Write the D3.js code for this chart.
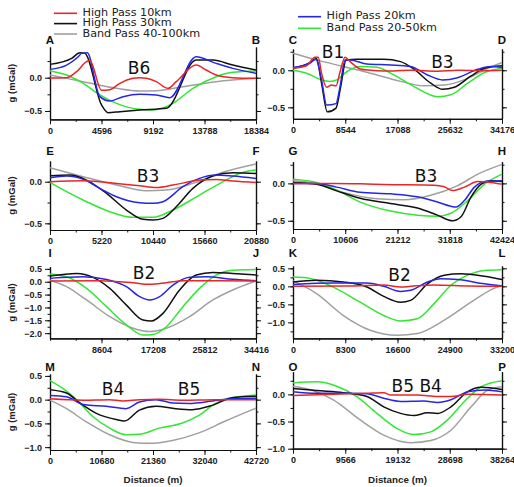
<!DOCTYPE html>
<html><head><meta charset="utf-8">
<script src="https://cdn.jsdelivr.net/npm/d3@7"></script>
<style>body{margin:0;background:#fff}svg{display:block}</style>
</head><body><svg id="c" width="514" height="487"></svg>
<script>
// ---------------- DATA ----------------
const seriesLabels = ["High Pass 10km","High Pass 30km","Band Pass 40-100km","High Pass 20km","Band Pass 20-50km"];
const cornerLetters = [["A","B"],["C","D"],["E","F"],["G","H"],["I","J"],["K","L"],["M","N"],["O","P"]];
const distanceMax = [18384,34176,20880,42424,34416,33200,42720,38264];

const xTicks_AB = [0,4596,9192,13788,18384];
const xTicks_CD = [0,8544,17088,25632,34176];
const xTicks_EF = [0,5220,10440,15660,20880];
const xTicks_GH = [0,10606,21212,31818,42424];
const xTicks_IJ = [8604,17208,25812,34416];
const xTicks_KL = [0,8300,16600,24900,33200];
const xTicks_MN = [0,10680,21360,32040,42720];
const xTicks_OP = [0,9566,19132,28698,38264];

const yTicks_AB = [-0.5,0.0];
const yTicks_CD = [-0.5,0.0];
const yTicks_EF = [-0.5,0.0];
const yTicks_GH = [-0.5,0.0];
const yTicks_IJ = [-2.0,-1.5,-1.0,-0.5,0.0,0.5];
const yTicks_KL = [-1.0,-0.5,0.0,0.5];
const yTicks_MN = [-1.0,-0.5,0.0,0.5];
const yTicks_OP = [-1.0,-0.5,0.0];

const yRange_AB = [-0.625,0.461];
const yRange_CD = [-0.655,0.287];
const yRange_EF = [-0.58,0.249];
const yRange_GH = [-0.61,0.29];
const yRange_IJ = [-2.2,0.584];
const yRange_KL = [-1.443,0.565];
const yRange_MN = [-1.06,0.54];
const yRange_OP = [-1.0,0.417];

// Panel A-B
const hp10_AB = [[0,-0.005],[1480,0.0],[2370,0.09],[3260,0.24],[3560,0.26],[4600,-0.19],[5340,-0.18],[6230,-0.085],[7400,-0.01],[8000,0.0],[8600,-0.01],[9490,-0.06],[10530,-0.16],[11270,-0.06],[13050,0.19],[13940,0.115],[14830,0.04],[16310,0.0],[18384,-0.01]];
const hp30_AB = [[0,0.2],[1930,0.29],[2670,0.375],[3110,0.365],[4600,-0.41],[5190,-0.525],[6230,-0.51],[8000,-0.485],[10380,-0.46],[13050,0.265],[14530,0.265],[16310,0.19],[18384,0.115]];
const bp40_AB = [[0,0.04],[2965,-0.06],[5930,-0.16],[8006,-0.2],[9488,-0.195],[11860,-0.135],[14825,-0.06],[18384,-0.01]];
const hp20_AB = [[0,0.125],[1483,0.19],[2520,0.315],[2817,0.365],[3321,0.375],[4448,-0.285],[5337,-0.35],[6523,-0.285],[8006,-0.25],[9488,-0.26],[10674,-0.3],[13046,0.315],[14825,0.215],[16308,0.14],[18384,0.065]];
const bp20_AB = [[0,0.1],[1483,0.04],[2965,-0.085],[4448,-0.26],[5930,-0.385],[8006,-0.475],[9190,-0.485],[10970,-0.385],[12750,-0.16],[14825,0.015],[16308,0.08],[18384,0.1]];

// Panel C-D
const hp10_CD = [[0,0.027],[2198,0.06],[3572,0.175],[4121,0.175],[4671,-0.04],[5495,-0.23],[6319,-0.2],[7034,-0.21],[7693,-0.02],[8517,0.175],[9342,0.117],[10990,0.018],[12639,0],[14837,-0.01],[19233,0],[23629,-0.013],[26926,0],[31322,-0.005],[34176,0]];
const hp30_CD = [[0,0.027],[2748,0.104],[3847,0.16],[4671,-0.175],[5605,-0.56],[7034,-0.51],[7803,-0.22],[8682,0.14],[10441,0.15],[14837,0.15],[17584,0.117],[19782,0.014],[22530,-0.175],[24453,-0.257],[26376,-0.23],[29124,-0.077],[31322,0.027],[34176,0.06]];
const bp40_CD = [[0,0.23],[3847,0.14],[8243,0.05],[12639,-0.04],[17584,-0.15],[21431,-0.21],[24728,-0.2],[28574,-0.11],[31871,0.027],[34176,0.104]];
const hp20_CD = [[0,0.036],[2748,0.095],[3737,0.15],[4671,-0.13],[5495,-0.47],[7034,-0.45],[7693,-0.22],[8517,0.14],[9342,0.14],[12089,0.085],[15936,0.072],[19233,0.05],[21980,-0.063],[24453,-0.13],[26926,-0.1],[30223,0.013],[32421,0.05],[34176,0.036]];
const bp20_CD = [[0,0],[2198,-0.04],[4396,-0.12],[6045,-0.15],[7144,-0.13],[8792,-0.02],[10990,0.05],[13738,0.04],[16485,-0.063],[19782,-0.22],[23629,-0.356],[25827,-0.33],[28574,-0.175],[31322,-0.03],[34176,0.027]];

// Panel E-F
const hp10_EF = [[0,0],[3368,0.012],[6736,-0.02],[9094,-0.048],[10778,-0.068],[12462,-0.04],[15156,0.02],[16840,0.028],[18524,0.008],[20880,-0.008]];
const hp30_EF = [[0,0.072],[2021,0.08],[3705,0.02],[5726,-0.14],[7746,-0.34],[9430,-0.452],[10441,-0.46],[11451,-0.44],[12798,-0.3],[14482,-0.08],[16503,0.068],[18524,0.108],[20880,0.1]];
const bp40_EF = [[0,0.168],[3368,0.06],[6736,-0.04],[9767,-0.108],[11788,-0.1],[14482,-0.02],[17177,0.1],[20880,0.212]];
const hp20_EF = [[0,0.048],[1684,0.068],[3368,0.028],[5052,-0.08],[6736,-0.18],[9094,-0.252],[10441,-0.26],[11451,-0.24],[13472,-0.06],[15156,0.04],[16840,0.08],[18524,0.068],[20880,0.04]];
const bp20_EF = [[0,-0.008],[1684,-0.12],[3705,-0.24],[6062,-0.36],[8420,-0.428],[10441,-0.428],[12462,-0.34],[15156,-0.16],[17850,0.02],[19534,0.112],[20880,0.14]];

// Panel G-H
const hp10_GH = [[0,0],[8185,0.0],[13642,-0.005],[18417,-0.015],[28648,-0.025],[30695,-0.045],[32400,-0.096],[34787,-0.05],[37516,0.026],[40244,0.013],[42424,-0.01]];
const hp30_GH = [[0,0.013],[4775,-0.01],[8867,-0.1],[13642,-0.2],[19781,-0.27],[25238,-0.33],[29330,-0.425],[32400,-0.5],[34105,-0.447],[36151,-0.18],[38198,-0.01],[40244,0.035],[42424,0.026]];
const bp40_GH = [[0,0.035],[4775,0],[10232,-0.12],[17053,-0.206],[22509,-0.22],[27966,-0.16],[33423,-0.03],[37516,0.123],[42424,0.254]];
const hp20_GH = [[0,0],[4775,0],[8867,-0.05],[13642,-0.12],[19781,-0.14],[25238,-0.18],[29330,-0.25],[32059,-0.307],[33082,-0.316],[34787,-0.23],[36833,-0.05],[38878,0.026],[42424,0.035]];
const bp20_GH = [[0,0.057],[4775,0.013],[8867,-0.09],[13642,-0.25],[19781,-0.37],[25238,-0.425],[29330,-0.44],[32059,-0.4],[35469,-0.23],[38878,-0.01],[42424,0.123]];

// Panel I-J
const hp10_IJ = [[0,0.03],[8327,0.04],[13878,-0.04],[16653,-0.1],[19429,-0.04],[22204,0.04],[27755,0.04],[34416,0.03]];
const hp30_IJ = [[0,0.22],[4441,0.32],[7216,0.17],[9992,-0.26],[12767,-0.91],[15543,-1.49],[16931,-1.53],[18873,-1.23],[21649,-0.32],[24424,0.26],[27200,0.36],[30531,0.32],[34416,0.26]];
const bp40_IJ = [[0,0.06],[2776,-0.19],[6106,-0.71],[9992,-1.36],[13878,-1.81],[16653,-1.94],[19429,-1.81],[23314,-1.36],[27200,-0.71],[30531,-0.32],[34416,0.03]];
const hp20_IJ = [[0,0.13],[5551,0.19],[9437,0.09],[12767,-0.19],[14988,-0.58],[16653,-0.71],[18318,-0.58],[20539,-0.13],[23314,0.17],[26090,0.19],[30531,0.1],[34416,0.04]];
const bp20_IJ = [[0,0.3],[2776,0.19],[6106,-0.26],[9437,-0.97],[12767,-1.68],[15543,-2.07],[17208,-2.05],[19429,-1.75],[22204,-0.97],[24980,-0.26],[27755,0.26],[30531,0.45],[34416,0.48]];

// Panel K-L
const hp10_KL = [[0,0],[9075,0.01],[14413,0.04],[17082,-0.02],[18683,0],[22420,0.04],[27758,0.01],[33200,0]];
const hp30_KL = [[0,0.12],[3737,0.17],[8007,0.12],[11744,-0.02],[14413,-0.28],[17082,-0.44],[18683,-0.39],[21352,0.07],[24021,0.31],[26690,0.35],[30427,0.28],[33200,0.19]];
const bp40_KL = [[0,0.15],[3737,-0.2],[8007,-0.81],[12277,-1.22],[16548,-1.36],[19751,-1.31],[24021,-0.94],[28291,-0.44],[31494,-0.09],[33200,0.03]];
const hp20_KL = [[0,0.05],[6406,0.09],[11744,0.09],[14413,0],[17082,-0.14],[18683,-0.11],[21352,0.12],[23487,0.21],[26156,0.19],[30427,0.07],[33200,0.01]];
const bp20_KL = [[0,0.26],[2135,0.24],[6406,-0.02],[10676,-0.44],[14413,-0.81],[17082,-0.96],[19751,-0.9],[22420,-0.48],[25089,0.03],[27758,0.31],[30427,0.44],[33200,0.46]];

// Panel M-N
const hp10_MN = [[0,0.02],[6868,-0.01],[12362,0],[15110,-0.03],[18544,0],[22664,0.01],[27472,-0.01],[34340,0],[42720,0]];
const hp30_MN = [[0,0.21],[3434,0.14],[6181,-0.07],[9615,-0.29],[13736,-0.42],[15453,-0.45],[18544,-0.22],[21978,-0.14],[26098,-0.19],[29532,-0.21],[33653,-0.12],[37774,0.04],[42720,0.07]];
const bp40_MN = [[0,-0.01],[3434,-0.19],[7555,-0.47],[12362,-0.74],[17170,-0.9],[20604,-0.92],[25412,-0.86],[30906,-0.7],[36400,-0.45],[39834,-0.3],[42720,-0.18]];
const hp20_MN = [[0,0.09],[3434,0.06],[6868,-0.1],[11676,-0.14],[15796,-0.19],[18544,-0.05],[21978,0],[25412,-0.07],[28846,-0.08],[33653,-0.03],[37774,0.02],[42720,0.03]];
const bp20_MN = [[0,0.4],[2747,0.23],[5494,0],[8928,-0.36],[12362,-0.6],[15796,-0.74],[18544,-0.73],[22664,-0.6],[27472,-0.49],[30906,-0.33],[34340,-0.08],[37087,0.03],[42720,0.1]];

// Panel O-P
const hp10_OP = [[0,-0.02],[7382,0],[13534,0.02],[16610,0.03],[17841,-0.01],[22762,-0.01],[26454,-0.04],[28914,-0.04],[31990,0],[38264,-0.01]];
const hp30_OP = [[0,0.11],[4306,0.07],[9228,0.03],[13534,-0.04],[16610,-0.23],[19686,-0.35],[22147,-0.39],[24608,-0.34],[26454,-0.35],[28914,-0.23],[31990,0.05],[34451,0.13],[38264,0.09]];
const bp40_OP = [[0,0.15],[3076,0.09],[7382,-0.1],[12304,-0.47],[16610,-0.75],[21532,-0.89],[25223,-0.85],[28914,-0.66],[32606,-0.23],[35682,0.08],[38264,0.14]];
const hp20_OP = [[0,0.05],[4306,0.02],[10458,0.02],[13534,0.01],[16610,-0.07],[19686,-0.13],[23993,-0.12],[26454,-0.15],[28914,-0.1],[31990,0.05],[35066,0.08],[38264,0.05]];
const bp20_OP = [[0,0.21],[4306,0.23],[7998,0.15],[11689,-0.04],[15380,-0.35],[19071,-0.63],[22147,-0.74],[25223,-0.69],[28299,-0.47],[31375,-0.13],[34451,0.14],[38264,0.25]];

// Anomaly labels [text, distance, value]
const notes_AB = [["B6",7940,0.055]];
const notes_CD = [["B1",6540,0.16],["B3",24440,0.027]];
const notes_EF = [["B3",9930,-0.007]];
const notes_GH = [["B3",26990,0.02]];
const notes_IJ = [["B2",15700,0.09]];
const notes_KL = [["B2",16920,0.147]];
const notes_MN = [["B4",13070,0.09],["B5",28830,0.09]];
const notes_OP = [["B5 B4",22650,0.048]];

// ---------------- LAYOUT / STYLE ----------------
const colors = {hp10:"#e82626", hp30:"#111111", bp40:"#a0a0a0", hp20:"#2626e6", bp20:"#33e633"};
const cols = [[50,256],[293,502]];
const panels = [
  {c:0, top:47,    bottom:119.3, lb:43.5,  xt:xTicks_AB, yt:yTicks_AB, yr:yRange_AB, s:[bp40_AB,bp20_AB,hp30_AB,hp20_AB,hp10_AB], n:notes_AB},
  {c:1, top:49,    bottom:118.8, lb:43.5,  xt:xTicks_CD, yt:yTicks_CD, yr:yRange_CD, s:[bp40_CD,bp20_CD,hp30_CD,hp20_CD,hp10_CD], n:notes_CD},
  {c:0, top:161,   bottom:230,   lb:155,   xt:xTicks_EF, yt:yTicks_EF, yr:yRange_EF, s:[bp40_EF,bp20_EF,hp30_EF,hp20_EF,hp10_EF], n:notes_EF},
  {c:1, top:161.7, bottom:229,   lb:155,   xt:xTicks_GH, yt:yTicks_GH, yr:yRange_GH, s:[bp40_GH,bp20_GH,hp30_GH,hp20_GH,hp10_GH], n:notes_GH},
  {c:0, top:266.7, bottom:338.3, lb:256.5, xt:xTicks_IJ, yt:yTicks_IJ, yr:yRange_IJ, s:[bp40_IJ,bp20_IJ,hp30_IJ,hp20_IJ,hp10_IJ], n:notes_IJ},
  {c:1, top:266,   bottom:338.3, lb:256.5, xt:xTicks_KL, yt:yTicks_KL, yr:yRange_KL, s:[bp40_KL,bp20_KL,hp30_KL,hp20_KL,hp10_KL], n:notes_KL},
  {c:0, top:374,   bottom:450,   lb:370.5, xt:xTicks_MN, yt:yTicks_MN, yr:yRange_MN, s:[bp40_MN,bp20_MN,hp30_MN,hp20_MN,hp10_MN], n:notes_MN},
  {c:1, top:371.7, bottom:448.7, lb:370.5, xt:xTicks_OP, yt:yTicks_OP, yr:yRange_OP, s:[bp40_OP,bp20_OP,hp30_OP,hp20_OP,hp10_OP], n:notes_OP}
];
const drawColors = [colors.bp40, colors.bp20, colors.hp30, colors.hp20, colors.hp10];

const svg = d3.select("#c");
const tickFont = "'Liberation Sans', Arial, sans-serif";
const fmtY = d3.format(".1f");

function styleAxis(g){
  g.select(".domain").attr("stroke","#111").attr("stroke-width",1.2);
  g.selectAll(".tick line").attr("stroke","#111").attr("stroke-width",1);
  g.selectAll(".tick text").attr("font-family",tickFont).attr("font-weight","bold").attr("font-size",9).attr("fill","#222");
}

panels.forEach((p,i)=>{
  const [x0,x1] = cols[p.c];
  const xMax = distanceMax[i];
  const x = d3.scaleLinear().domain([0,xMax]).range([x0,x1]);
  const y = d3.scaleLinear().domain(p.yr).range([p.bottom,p.top]);
  const g = svg.append("g");

  // minor ticks
  const minorX = d3.range(0, 9).map(k=>k*xMax/8);
  const minorY = d3.range(Math.ceil(p.yr[0]/0.25), Math.floor(p.yr[1]/0.25)+1).map(k=>k*0.25);
  g.append("g").attr("transform",`translate(0,${p.bottom})`).call(d3.axisBottom(x).tickValues(minorX).tickSize(2.5).tickSizeOuter(0).tickFormat("")).call(styleAxis);
  g.append("g").attr("transform",`translate(${x0},0)`).call(d3.axisLeft(y).tickValues(minorY).tickSize(2.5).tickSizeOuter(0).tickFormat("")).call(styleAxis);
  g.append("g").attr("transform",`translate(${x1},0)`).call(d3.axisRight(y).tickValues(minorY).tickSize(2.5).tickSizeOuter(0).tickFormat("")).call(styleAxis);

  // major axes
  g.append("g").attr("transform",`translate(0,${p.bottom})`).call(d3.axisBottom(x).tickValues(p.xt).tickSize(5).tickPadding(3).tickSizeOuter(0).tickFormat(d3.format("d"))).call(styleAxis);
  g.append("g").attr("transform",`translate(${x0},0)`).call(d3.axisLeft(y).tickValues(p.yt).tickSize(5).tickPadding(3).tickSizeOuter(0).tickFormat(fmtY)).call(styleAxis);
  g.append("g").attr("transform",`translate(${x1},0)`).call(d3.axisRight(y).tickValues(p.yt).tickSize(5).tickSizeOuter(0).tickFormat("")).call(styleAxis);

  // lines
  const line = d3.line().x(d=>x(d[0])).y(d=>y(d[1])).curve(d3.curveMonotoneX);
  p.s.forEach((ser,k)=>{
    g.append("path").datum(ser).attr("d",line).attr("fill","none")
      .attr("stroke",drawColors[k]).attr("stroke-width",1.5).attr("stroke-linejoin","round");
  });

  // anomaly labels
  p.n.forEach(([t,dx,dv])=>{
    g.append("text").attr("x",x(dx)).attr("y",y(dv)).attr("text-anchor","middle")
      .attr("font-family","'DejaVu Sans', sans-serif").attr("font-size",17).attr("fill","#111").text(t);
  });

  // corner letters
  const [la,lb] = cornerLetters[i];
  [[la,x0],[lb,x1]].forEach(([t,xx])=>{
    g.append("text").attr("x",xx).attr("y",p.lb).attr("text-anchor","middle")
      .attr("font-family",tickFont).attr("font-weight","bold").attr("font-size",11.5).attr("fill","#111").text(t);
  });

  // y title on left column
  if (p.c===0){
    const cy = (p.top+p.bottom)/2;
    g.append("text").attr("transform",`translate(15,${cy}) rotate(-90)`).attr("text-anchor","middle")
      .attr("font-family",tickFont).attr("font-weight","bold").attr("font-size",9.5).attr("fill","#222").text("g (mGal)");
  }
  // x title on bottom row
  if (i>=6){
    svg.append("text").attr("x",(x0+x1)/2).attr("y",483).attr("text-anchor","middle")
      .attr("font-family",tickFont).attr("font-weight","bold").attr("font-size",9.8).attr("fill","#222").text("Distance (m)");
  }
});

// legend
const legendItems = [
  {label:seriesLabels[0], color:colors.hp10, x:54, y:13.3},
  {label:seriesLabels[1], color:colors.hp30, x:54, y:23.6},
  {label:seriesLabels[2], color:colors.bp40, x:54, y:34},
  {label:seriesLabels[3], color:colors.hp20, x:298, y:16.7},
  {label:seriesLabels[4], color:colors.bp20, x:298, y:28.3}
];
const lg = svg.append("g");
legendItems.forEach(it=>{
  lg.append("line").attr("x1",it.x).attr("x2",it.x+23).attr("y1",it.y).attr("y2",it.y).attr("stroke",it.color).attr("stroke-width",1.6);
  lg.append("text").attr("x",it.x+28.5).attr("y",it.y+2.6).attr("font-family","'DejaVu Sans', sans-serif")
    .attr("font-size",11.2).attr("fill","#222").text(it.label);
});
</script></body></html>
